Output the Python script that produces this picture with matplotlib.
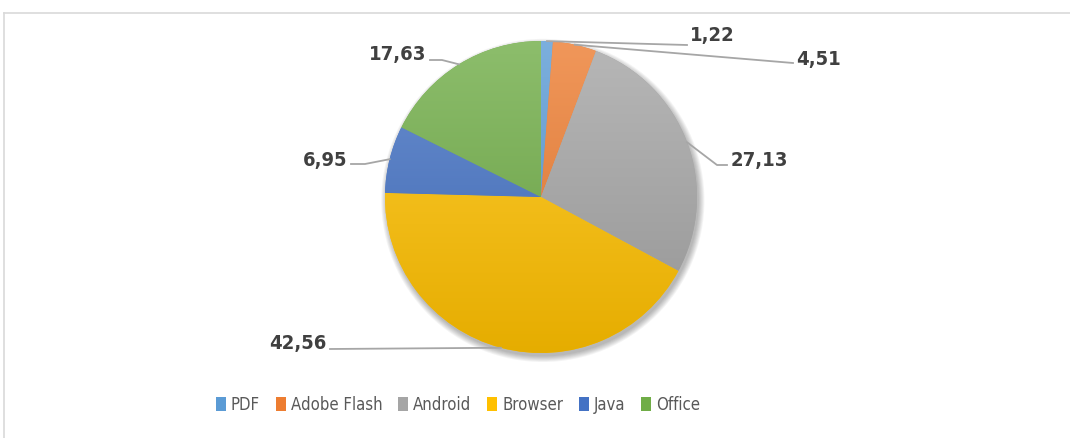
import numpy as np
import matplotlib.pyplot as plt
from matplotlib.patches import Wedge, Circle, Patch
from matplotlib.colors import to_rgb
from matplotlib.lines import Line2D

### data
labels = ['PDF', 'Adobe Flash', 'Android', 'Browser', 'Java', 'Office']
values = [1.22, 4.51, 27.13, 42.56, 6.95, 17.63]
value_text = ['1,22', '4,51', '27,13', '42,56', '6,95', '17,63']
colors = ['#5B9BD5', '#ED7D31', '#A5A5A5', '#FFC000', '#4472C4', '#70AD47']

### layout (pixels)
W, H = 1070, 438
cx, cy, r = 541, 197, 156
leader_pts = [[(687, 45)],
              [(793, 63)],
              [(717, 165), (727, 165)],
              [(330, 349)],
              [(365, 164), (351, 164)],
              [(442, 60), (430, 60)]]
text_pos = [(690, 35, 'left'), (796, 59, 'left'), (731, 160, 'left'),
            (326, 343, 'right'), (347, 160, 'right'), (426, 54, 'right')]

plt.rcParams['font.family'] = ['DejaVu Sans']
plt.rcParams['font.stretch'] = 'condensed'

def px(x, y):
    return (x - cx) / r, (cy - y) / r

fig = plt.figure(figsize=(W / 100, H / 100), dpi=100)
ax = fig.add_axes([(cx - r) / W, (H - cy - r) / H, 2 * r / W, 2 * r / H])
ax.set_axis_off()

# frame of the chart area
fig.add_artist(Line2D([4 / W, 4 / W], [0, 1 - 13 / H], color='#d9d9d9', lw=1.2))
fig.add_artist(Line2D([4 / W, 1], [1 - 13 / H, 1 - 13 / H], color='#d9d9d9', lw=1.2))

# soft shadow
for k in range(7):
    ax.add_patch(Circle((0.012, -0.022), 1 + 0.006 * k, color='black',
                        alpha=0.045, lw=0, clip_on=False, zorder=1))

total = sum(values)
start = 90.0
for i, v in enumerate(values):
    t2 = start
    t1 = start - v / total * 360
    start = t1
    base = np.array(to_rgb(colors[i]))
    top = base + (1 - base) * 0.2
    bot = base * 0.9
    grad = np.linspace(0, 1, 256)[:, None, None]
    img = top * (1 - grad) + bot * grad
    w = Wedge((0, 0), 1, t1, t2, facecolor=colors[i], lw=0, zorder=2)
    ax.add_patch(w)
    im = ax.imshow(img, extent=[-1, 1, -1, 1], origin='upper', aspect='auto',
                   zorder=3)
    im.set_clip_path(w)

    # leader line from wedge edge through elbow points
    mid = np.deg2rad((t1 + t2) / 2)
    xs = [np.cos(mid)]
    ys = [np.sin(mid)]
    for p in leader_pts[i]:
        dx, dy = px(*p)
        xs.append(dx)
        ys.append(dy)
    ax.plot(xs, ys, color='#a6a6a6', lw=1.3, clip_on=False, zorder=4)
    tx, ty = px(text_pos[i][0], text_pos[i][1])
    ax.text(tx, ty, value_text[i], ha=text_pos[i][2], va='center',
            fontsize=14.5, fontweight='bold', color='#404040', clip_on=False)

ax.set_xlim(-1, 1)
ax.set_ylim(-1, 1)

handles = [Patch(facecolor=c, edgecolor='none') for c in colors]
leg = fig.legend(handles, labels, loc='center', ncol=6, frameon=False,
                 bbox_to_anchor=(458 / W, 1 - 405 / H), fontsize=12,
                 handlelength=0.6, handleheight=0.9, handletextpad=0.3,
                 columnspacing=0.95)
for t in leg.get_texts():
    t.set_color('#595959')

plt.savefig('out.png', dpi=100)
